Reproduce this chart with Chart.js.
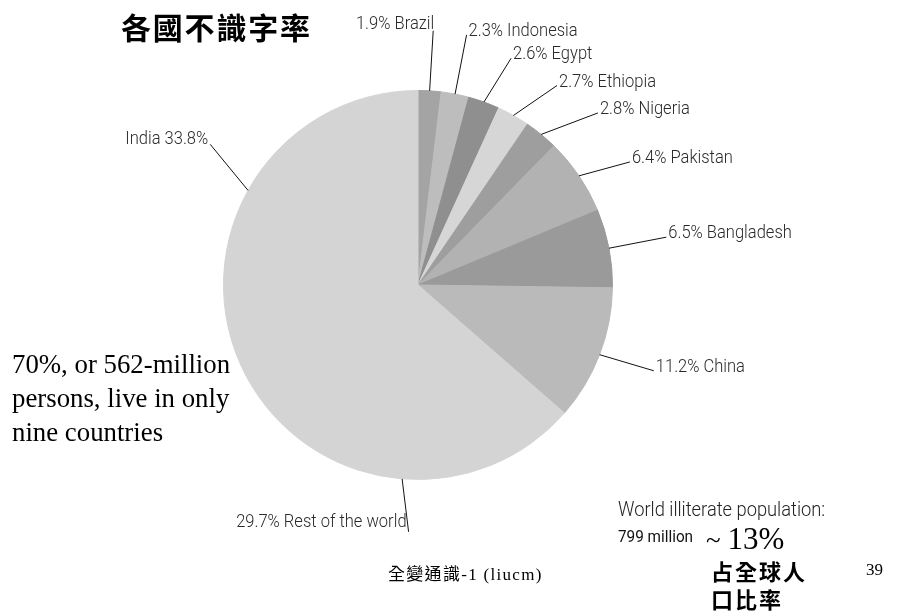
<!DOCTYPE html>
<html lang="zh-Hant">
<head>
    <meta charset="UTF-8">
    <title>各國不識字率</title>
    <style>
        body { margin: 0; background: #fff; }
        #wrap { position: relative; width: 898px; height: 616px; overflow: hidden; }
        #myChart { position: absolute; left: 0; top: 0; }
        .txt { position: absolute; white-space: nowrap; color: #000; }
        .narrow { font-family: Roboto, "DejaVu Sans Condensed", sans-serif; font-weight: 300; transform-origin: 0 0; }
        .title { left: 121px; top: 4px; font: bold 30px "Noto Sans CJK TC", sans-serif; letter-spacing: 1.8px; }
        .note { left: 12px; top: 347px; font: 26.8px/34px "Liberation Serif", serif; }
        .world { left: 618px; top: 497px; font-size: 20px; color: #222; transform: scaleX(0.915); }
        .million { left: 618px; top: 526px; font-size: 17px; font-weight: 400; color: #111; transform: scaleX(0.9); }
        .pct { left: 706px; top: 521px; font: 31px "Liberation Serif", serif; }
        .pct small { font-size: 27px; margin-right: 7px; }
        .share { left: 711px; top: 556px; font: bold 22px/28px "Noto Sans CJK TC", sans-serif; letter-spacing: 2px; }
        .footer { left: 388px; top: 560px; font: 17px "Liberation Serif", "Noto Sans CJK TC", serif; letter-spacing: 1.3px; }
        .page { left: 866px; top: 560px; font: 17px "Liberation Serif", serif; }
    </style>
</head>
<body>
<div id="wrap">
    <canvas id="myChart" width="898" height="616"></canvas>
    <div class="txt title">各國不識字率</div>
    <div class="txt note">70%, or 562-million<br>persons, live in only<br>nine countries</div>
    <div class="txt narrow world">World illiterate population:</div>
    <div class="txt narrow million">799 million</div>
    <div class="txt pct"><small>~</small>13%</div>
    <div class="txt share">占全球人<br>口比率</div>
    <div class="txt footer">全變通識-1 (liucm)</div>
    <div class="txt page">39</div>
</div>

<script src="https://cdn.jsdelivr.net/npm/chart.js@4"></script>
<script>
    // share of the world's illiterate population, clockwise from 12 o'clock
    let countries = ['Brazil', 'Indonesia', 'Egypt', 'Ethiopia', 'Nigeria', 'Pakistan', 'Bangladesh', 'China', 'Rest of the world', 'India']
    let shares = [1.9, 2.3, 2.6, 2.7, 2.8, 6.4, 6.5, 11.2, 29.7, 33.8]
    let labels = ['1.9% Brazil', '2.3% Indonesia', '2.6% Egypt', '2.7% Ethiopia', '2.8% Nigeria',
                  '6.4% Pakistan', '6.5% Bangladesh', '11.2% China', '29.7% Rest of the world', 'India 33.8%']

    let greys = ['#a4a4a4', '#bdbdbd', '#8f8f8f', '#d6d6d6', '#9e9e9e', '#b2b2b2', '#9a9a9a', '#bababa', '#d4d4d4', '#d4d4d4']
    // how far (degrees) each callout is pushed clockwise so the small slices don't collide
    let calloutTurn = [0, 0, 2.5, 5.5, 7, 4, 0, -1, -2.5, 5]
    let calloutReach = [1.31, 1.31, 1.26, 1.25, 1.28, 1.26, 1.30, 1.29, 1.27, 1.29]

    // condensed look: squeeze the text horizontally around its anchor
    function narrowText(ctx, text, x, y, align) {
        ctx.save()
        ctx.translate(x, y)
        ctx.scale(0.87, 1)
        ctx.textAlign = align
        ctx.fillText(text, 0, 0)
        ctx.restore()
    }

    const callouts = {
        id: 'callouts',
        afterDatasetsDraw(chart) {
            const ctx = chart.ctx
            const arcs = chart.getDatasetMeta(0).data
            ctx.save()
            ctx.font = '300 19px Roboto, "DejaVu Sans Condensed", sans-serif'
            ctx.textBaseline = 'alphabetic'
            arcs.forEach((arc, i) => {
                const mid = (arc.startAngle + arc.endAngle) / 2
                const r = arc.outerRadius
                const x0 = arc.x + Math.cos(mid) * r
                const y0 = arc.y + Math.sin(mid) * r
                const a = mid + calloutTurn[i] * Math.PI / 180
                const x1 = arc.x + Math.cos(a) * r * calloutReach[i]
                const y1 = arc.y + Math.sin(a) * r * calloutReach[i]

                ctx.strokeStyle = '#111'
                ctx.lineWidth = 1
                ctx.beginPath()
                ctx.moveTo(x0, y0)
                ctx.lineTo(x1, y1)
                ctx.stroke()

                ctx.fillStyle = '#2a2a2a'
                const onLeft = x1 < arc.x - 5
                const above = Math.abs(x1 - arc.x) < 30 && y1 < arc.y
                if (above) {
                    // the top-most label sits right-aligned over its line
                    if (i === 0) narrowText(ctx, labels[i], x1 + 1, y1 - 2, 'right')
                    else narrowText(ctx, labels[i], x1 - 1, y1 - 3, 'left')
                } else if (onLeft) {
                    narrowText(ctx, labels[i], x1 - 2, y1 - (y1 > arc.y ? 5 : 0), 'right')
                } else {
                    narrowText(ctx, labels[i], x1 + 2, y1 + 1, 'left')
                }
            })
            ctx.restore()
        }
    }

    var ctx = document.getElementById('myChart').getContext('2d')
    var chart = new Chart(ctx, {
        type: 'pie',
        data: {
            labels: countries,
            datasets: [{
                data: shares,
                backgroundColor: greys,
                borderColor: greys,
                borderWidth: 1
            }]
        },
        options: {
            responsive: false,
            animation: false,
            layout: { padding: { left: 223, right: 285, top: 90, bottom: 136 } },
            plugins: {
                legend: { display: false },
                tooltip: { enabled: false }
            }
        },
        plugins: [callouts]
    })
</script>
</body>
</html>
